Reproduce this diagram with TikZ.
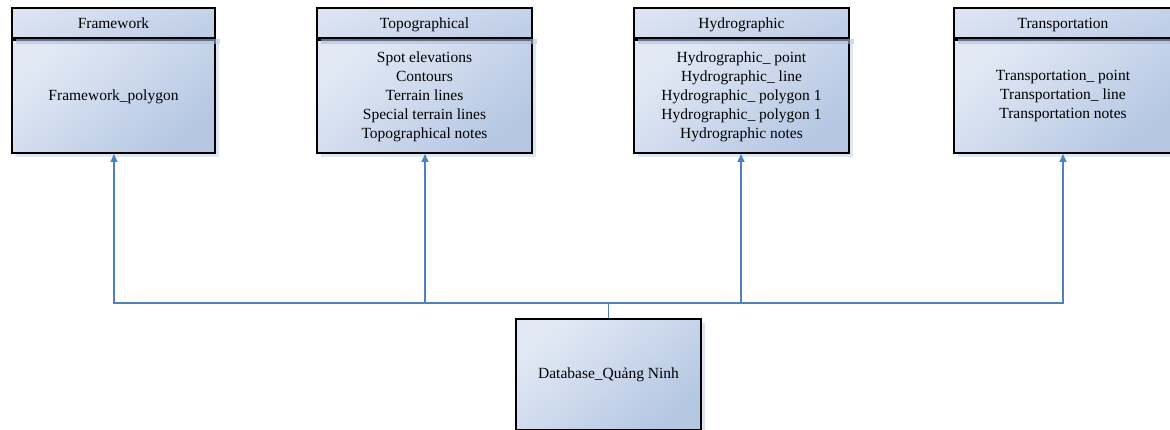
\documentclass[tikz,border=0pt]{standalone}
\usepackage{fontspec}
\setmainfont{Liberation Serif}
\usetikzlibrary{arrows.meta,positioning,calc}
\definecolor{boxlight}{HTML}{E2E9F5}
\definecolor{boxdark}{HTML}{B5C7E3}
\definecolor{headlight}{HTML}{DCE4F2}
\definecolor{headdark}{HTML}{BFCEE7}
\definecolor{shadowc}{HTML}{DDE6F3}
\definecolor{stripec}{HTML}{A9BFE0}
\definecolor{connc}{HTML}{4F81BD}
\tikzset{
  part/.style={draw=black, line width=2pt, top color=boxlight, bottom color=boxdark, shading angle=40,
    inner sep=0pt, align=center, font=\fontsize{15.5}{19}\selectfont, text=black},
  headpart/.style={part, top color=headlight, bottom color=headdark, shading angle=20},
  shadowbox/.style={fill=shadowc, draw=none},
  stripe/.style={fill=stripec, draw=none, opacity=0.6},
  conn/.style={draw=connc, line width=1.3pt},
  arr/.style={conn, -{Triangle[width=7pt,length=8pt]}}
}
\newcommand{\umlbox}[6]{%
  \fill[shadowbox] (#2+5,278-5) rectangle (#2+#3+5,391-5);
  \node[part, minimum width=#3pt, minimum height=113pt, anchor=north west] (#1-b) at (#2,391) {#5};
  \fill[stripe] (#2+5,391-5) rectangle (#2+#3+6,391);
  \node[headpart, minimum width=#3pt, minimum height=30pt, text depth=0pt, text height=12pt, anchor=south west] (#1-h) at (#2,391) {#4};
}
\begin{document}
\begin{tikzpicture}[x=1pt,y=1pt]
\useasboundingbox (0,0) rectangle (1170,430);
\umlbox{fw}{11}{203}{Framework}{Framework\_polygon}{}
\umlbox{tp}{316}{215}{Topographical}{Spot elevations\\Contours\\Terrain lines\\Special terrain lines\\Topographical notes}{}
\umlbox{hy}{633}{215}{Hydrographic}{Hydrographic\_ point\\Hydrographic\_ line\\Hydrographic\_ polygon 1\\Hydrographic\_ polygon 1\\Hydrographic notes}{}
\umlbox{tr}{953}{218}{Transportation}{Transportation\_ point\\Transportation\_ line\\Transportation notes}{}
% database box
\fill[shadowbox] (520,-5) rectangle (705,107);
\node[part, minimum width=185pt, minimum height=111pt, anchor=north west] (db) at (515,112) {Database\_Quảng Ninh};
\coordinate (bus) at (0,127);
\draw[conn] (db.north) -- (db.north |- bus);
\draw[arr] (db.north |- bus) -| ([xshift=0.5pt]fw-b.south);
\draw[arr] (db.north |- bus) -| ([xshift=0.5pt]tp-b.south);
\draw[arr] (db.north |- bus) -| ([xshift=-0.5pt]hy-b.south);
\draw[arr] (db.north |- bus) -| (tr-b.south);
\end{tikzpicture}
\end{document}
